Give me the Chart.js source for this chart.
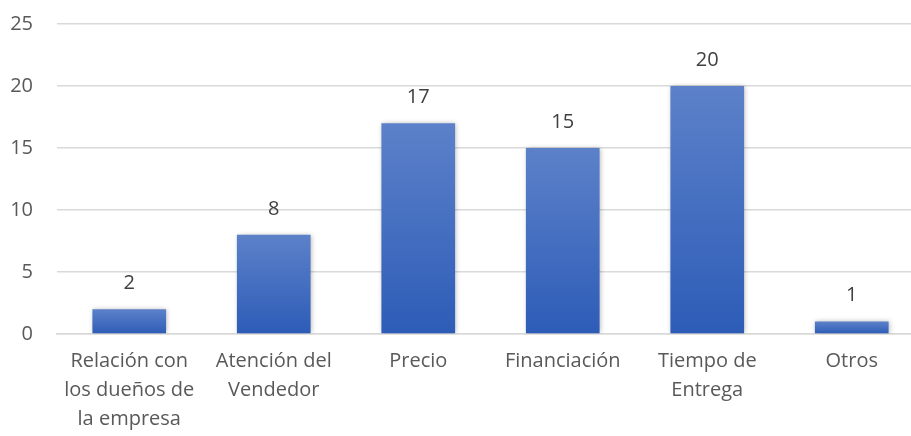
<!DOCTYPE html>
<html lang="es">
<head>
<meta charset="utf-8"/>
<title>Factores de compra</title>
<script src="https://cdn.jsdelivr.net/npm/chart.js"></script>
<style>
  html, body { margin: 0; padding: 0; background: #fff; overflow: hidden; }
  .grafico { width: 924px; height: 436px; }
</style>
</head>
<body>
<div class="grafico"><canvas id="factores"></canvas></div>
<script>
  // Datos del gráfico
  const categorias = [
    ['Relación con', 'los dueños de', 'la empresa'],
    ['Atención del', 'Vendedor'],
    ['Precio'],
    ['Financiación'],
    ['Tiempo de', 'Entrega'],
    ['Otros']
  ];
  const respuestas = [2, 8, 17, 15, 20, 1];
  const marcasEje = [0, 5, 10, 15, 20, 25];

  const gris = '#595959';
  const fuente = { family: "'Open Sans', sans-serif", size: 20 };

  // degradado vertical propio de cada barra (de su tope a la base)
  function degradado(ctx) {
    const y = ctx.chart.scales.y;
    if (!y || ctx.raw == null) return '#4472c4';
    const top = y.getPixelForValue(ctx.raw);
    const bottom = y.getPixelForValue(0);
    if (!isFinite(top) || !isFinite(bottom) || bottom - top < 1) return '#4472c4';
    const g = ctx.chart.ctx.createLinearGradient(0, top, 0, bottom);
    g.addColorStop(0, '#5c81c9');
    g.addColorStop(1, '#2d5cb7');
    return g;
  }

  // sombra suave de las barras y valor encima de cada una
  const barras = {
    id: 'barras',
    beforeDatasetsDraw(chart) {
      const c = chart.ctx;
      c.save();
      c.shadowColor = 'rgba(0,0,0,0.28)';
      c.shadowBlur = 5;
      c.shadowOffsetX = 1;
      c.shadowOffsetY = 0;
    },
    afterDatasetsDraw(chart) {
      const c = chart.ctx;
      c.restore();
      c.save();
      c.font = `${fuente.size}px ${fuente.family}`;
      c.fillStyle = '#404040';
      c.textAlign = 'center';
      c.textBaseline = 'middle';
      chart.getDatasetMeta(0).data.forEach((bar, i) => {
        c.fillText(respuestas[i], bar.x, bar.y - 26);
      });
      c.restore();
    }
  };

  new Chart(document.getElementById('factores'), {
    type: 'bar',
    data: {
      labels: categorias,
      datasets: [{
        data: respuestas,
        backgroundColor: degradado,
        barPercentage: 1,
        categoryPercentage: 0.51
      }]
    },
    options: {
      responsive: true,
      maintainAspectRatio: false,
      animation: false,
      layout: { padding: { top: 24, right: 0, left: 0, bottom: 0 } },
      plugins: { legend: { display: false }, tooltip: { enabled: false } },
      scales: {
        y: {
          min: 0,
          max: 25,
          afterBuildTicks(scale) { scale.ticks = marcasEje.map(v => ({ value: v })); },
          afterFit(scale) {
            scale.width = 57;
            scale.paddingTop = 0;
            scale.paddingBottom = 0;
          },
          border: { display: false },
          grid: { color: '#d9d9d9', lineWidth: 1.5, drawTicks: false },
          ticks: { color: gris, font: fuente, padding: 24 }
        },
        x: {
          afterFit(scale) { scale.height = 102; },
          border: { color: '#d9d9d9', width: 1.5 },
          grid: { display: false, drawTicks: false },
          ticks: { color: gris, font: { ...fuente, lineHeight: 1.45 }, padding: 13, maxRotation: 0, autoSkip: false }
        }
      }
    },
    plugins: [barras]
  });
</script>
</body>
</html>
